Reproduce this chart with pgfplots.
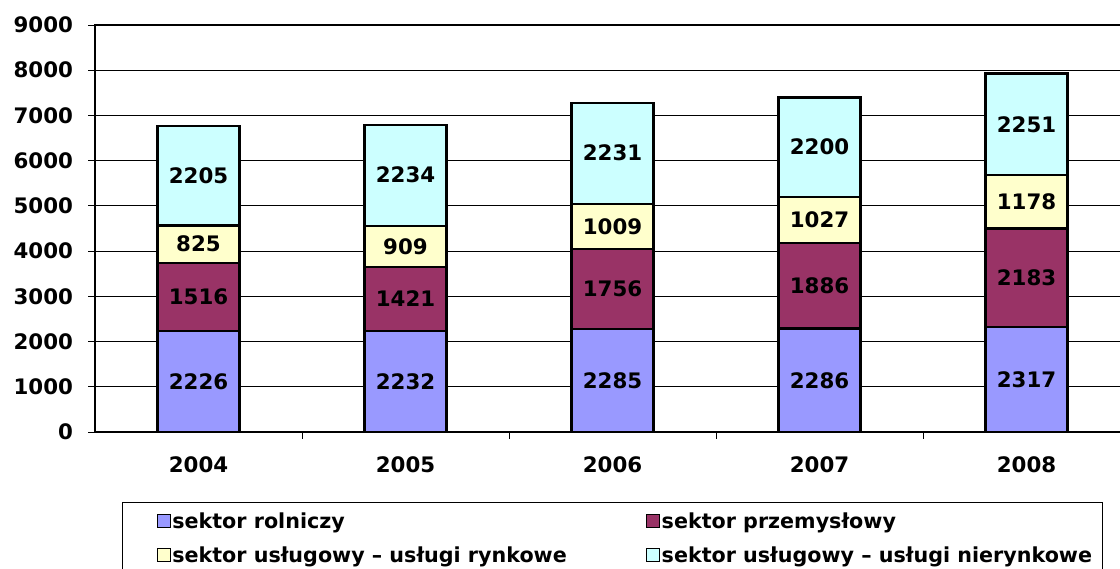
\documentclass[border=0pt]{standalone}
\usepackage{pgfplots}
\pgfplotsset{compat=1.18}
\usepackage{fontspec}
\setmainfont{DejaVu Sans}
\definecolor{c1}{HTML}{9999FF}
\definecolor{c2}{HTML}{993366}
\definecolor{c3}{HTML}{FFFFCC}
\definecolor{c4}{HTML}{CCFFFF}
\pgfplotsset{
  common/.style={
    at={(71.25pt,102pt)}, anchor=south west,
    width=776.25pt, height=305.25pt, scale only axis,
    xmin=-0.5, xmax=4.5, ymin=0, ymax=9000,
  }
}
\begin{document}
\begin{tikzpicture}[font=\fontsize{16}{19}\selectfont\bfseries]
\useasboundingbox (0,0) rectangle (840pt,426pt);
\clip (0,0) rectangle (840pt,426pt);
\begin{axis}[
  common,
  ybar stacked, bar width=61.5pt,
  ytick={0,1000,...,9000},
  scaled y ticks=false,
  /pgf/number format/1000 sep={},
  /pgf/number format/assume math mode=true,
  xtick={0.5,1.5,2.5,3.5}, xticklabels={},
  extra x ticks={0,1,2,3,4},
  extra x tick labels={2004,2005,2006,2007,2008},
  extra x tick style={major tick length=0pt, xticklabel style={yshift=-15pt}},
  xtick pos=left, ytick pos=left,
  tick align=outside, major tick length=5pt,
  tick style={black, line width=0.6pt},
  axis line style={black, line width=1.3pt},
  ymajorgrids, grid style={black, line width=0.6pt},
  yticklabel style={xshift=-8pt},
  every axis plot/.append style={line width=1.7pt},
  legend style={at={(0.0261,-0.172)}, anchor=north west, draw=black, line width=0.75pt,
    legend columns=2, inner xsep=3pt, inner ysep=5.5pt, row sep=8.5pt,
    font=\fontsize{15.5}{18}\selectfont\bfseries,
    nodes={inner xsep=1pt}},
  legend image code/.code={\path (-22.3pt,0pt); \draw[#1, line width=0.9pt, draw=black] (0pt,-4.5pt) rectangle (9.75pt,5.25pt);},
]
\addplot[fill=c1, draw=black] coordinates {(0,2226) (1,2232) (2,2285) (3,2286) (4,2317)};
\addlegendentry{\makebox[331.7pt][l]{sektor rolniczy}}
\addplot[fill=c2, draw=black] coordinates {(0,1516) (1,1421) (2,1756) (3,1886) (4,2183)};
\addlegendentry{\makebox[326.5pt][l]{sektor przemysłowy}}
\addplot[fill=c3, draw=black] coordinates {(0,825) (1,909) (2,1009) (3,1027) (4,1178)};
\addlegendentry{\makebox[331.7pt][l]{sektor usługowy – usługi rynkowe}}
\addplot[fill=c4, draw=black] coordinates {(0,2205) (1,2234) (2,2231) (3,2200) (4,2251)};
\addlegendentry{\makebox[326.5pt][l]{sektor usługowy – usługi nierynkowe}}
\end{axis}
\begin{axis}[common, hide axis]
\addplot[draw=none, nodes near coords, point meta=explicit symbolic,
  every node near coord/.append style={anchor=center, font=\fontsize{16}{19}\selectfont\bfseries}]
coordinates {
 (0,1113) [2226] (0,2984) [1516] (0,4154.5) [825] (0,5669.5) [2205]
 (1,1116) [2232] (1,2942.5) [1421] (1,4107.5) [909] (1,5679) [2234]
 (2,1142.5) [2285] (2,3163) [1756] (2,4545.5) [1009] (2,6165.5) [2231]
 (3,1143) [2286] (3,3229) [1886] (3,4685.5) [1027] (3,6299) [2200]
 (4,1158.5) [2317] (4,3408.5) [2183] (4,5089) [1178] (4,6803.5) [2251]
};
\end{axis}
\end{tikzpicture}
\end{document}
